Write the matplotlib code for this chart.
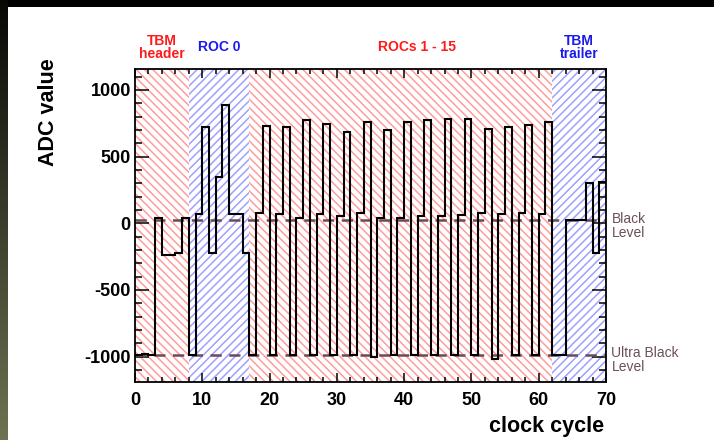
import numpy as np
import matplotlib
matplotlib.use("Agg")
import matplotlib.pyplot as plt
from matplotlib.ticker import MultipleLocator
import matplotlib.transforms as mtransforms

plt.rcParams['font.family'] = ['Liberation Sans', 'DejaVu Sans']
plt.rcParams['hatch.linewidth'] = 1.1
plt.rcParams['axes.unicode_minus'] = False

# ADC readout of one analog frame (one value per clock cycle)
header_adc = [-990, -978, -990, 37, -240, -240, -225, 37]
roc0_adc = [-990, 70, 720, -220, 345, 887, 70, 70, -220]
roc_ultra = [-990, -990, -990, -990, -990, -990, -1000, -990, -990, -990,
             -990, -990, -1020, -990, -990]
roc_black = [75, 67, 42, 67, 55, 75, 42, 42, 55, 55, 60, 75, 67, 75, 67]
roc_dac = [732, 720, 772, 747, 685, 760, 697, 760, 772, 785, 785, 707, 720,
           735, 760]
trailer_adc = [-990, -990, 25, 25, 25, 305, -220, 312]

black_level = 25
ultra_black_level = -990

region_bounds = [0, 8, 17, 62, 70]
region_names = ['TBM\nheader', 'ROC 0', 'ROCs 1 - 15', 'TBM\ntrailer']
region_label_x = [4, 12.5, 41.9, 66]
region_hatch = ['\\\\\\\\', '////', '\\\\\\\\', '////']
region_color = ['#ff9c9c', '#a0a0ff', '#ff9c9c', '#a0a0ff']
region_text_color = ['#ff1a1a', '#1a1aee', '#ff1a1a', '#1a1aee']

rocs = np.column_stack([roc_ultra, roc_black, roc_dac]).ravel()
adc = np.concatenate([header_adc, roc0_adc, rocs, trailer_adc])
edges = np.arange(len(adc) + 1)

fig = plt.figure(figsize=(7.14, 4.40), dpi=100)
fig.patch.set_facecolor('white')

# dark slide border: black strip on top, gradient strip on the left
top = fig.add_axes([0, 1 - 7 / 440, 1, 7 / 440])
top.set_axis_off()
top.add_patch(plt.Rectangle((0, 0), 1, 1, color='black', transform=top.transAxes))
side = fig.add_axes([0, 0, 8 / 714, 1])
side.set_axis_off()
grad = np.linspace(0, 1, 256)[:, None]
c0 = np.array([0.03, 0.03, 0.02])
c1 = np.array([0.43, 0.45, 0.32])
img = c0 + (c1 - c0) * grad[..., None]
side.imshow(img, aspect='auto', extent=[0, 1, 1, 0])
side.set_xlim(0, 1)
side.set_ylim(1, 0)

ax = fig.add_axes([135 / 714, 1 - 382 / 440, 471 / 714, 313 / 440])

for i in range(len(region_names)):
    ax.axvspan(region_bounds[i], region_bounds[i + 1], facecolor='none',
               edgecolor=region_color[i], hatch=region_hatch[i], linewidth=0,
               zorder=0)

trans = mtransforms.blended_transform_factory(ax.transData, ax.transAxes)
for i, name in enumerate(region_names):
    ax.text(region_label_x[i], 1.07, name, transform=trans, ha='center',
            va='center', color=region_text_color[i], fontsize=10,
            fontweight='bold', linespacing=0.9)

for lev in [black_level, ultra_black_level]:
    ax.plot([0, 70], [lev, lev], color='#6b4c55', lw=1.8, ls=(0, (4.5, 3)),
            zorder=2)

ax.stairs(adc, edges, baseline=None, color='black', lw=1.5, zorder=3)

ax.text(70.8, black_level + 60, 'Black\nLevel', color='#6b5058', fontsize=10,
        va='top', ha='left', linespacing=1.0)
ax.text(70.8, ultra_black_level + 70, 'Ultra Black\nLevel', color='#6b5058',
        fontsize=10, va='top', ha='left', linespacing=1.0)

ax.set_xlim(0, 70)
ax.set_ylim(-1190, 1157)
ax.xaxis.set_major_locator(MultipleLocator(10))
ax.xaxis.set_minor_locator(MultipleLocator(2))
ax.yaxis.set_major_locator(MultipleLocator(500))
ax.yaxis.set_minor_locator(MultipleLocator(100))
ax.tick_params(which='both', direction='in', top=True, right=True,
               width=1.1, labelsize=13)
ax.tick_params(axis='x', which='major', length=6.8, pad=7)
ax.tick_params(axis='x', which='minor', length=3.4)
ax.tick_params(axis='y', which='major', length=10, pad=3)
ax.tick_params(axis='y', which='minor', length=5)
for lab in ax.get_xticklabels() + ax.get_yticklabels():
    lab.set_fontweight('bold')
for sp in ax.spines.values():
    sp.set_linewidth(1.3)

fig.text(48 / 714, 1 - 58 / 440, 'ADC value', rotation=90, ha='center',
         va='top', fontsize=15.5, fontweight='bold')
fig.text(604 / 714, 1 - 437 / 440, 'clock cycle', ha='right', va='bottom',
         fontsize=15.5, fontweight='bold')

fig.savefig('out.png', dpi=100)
